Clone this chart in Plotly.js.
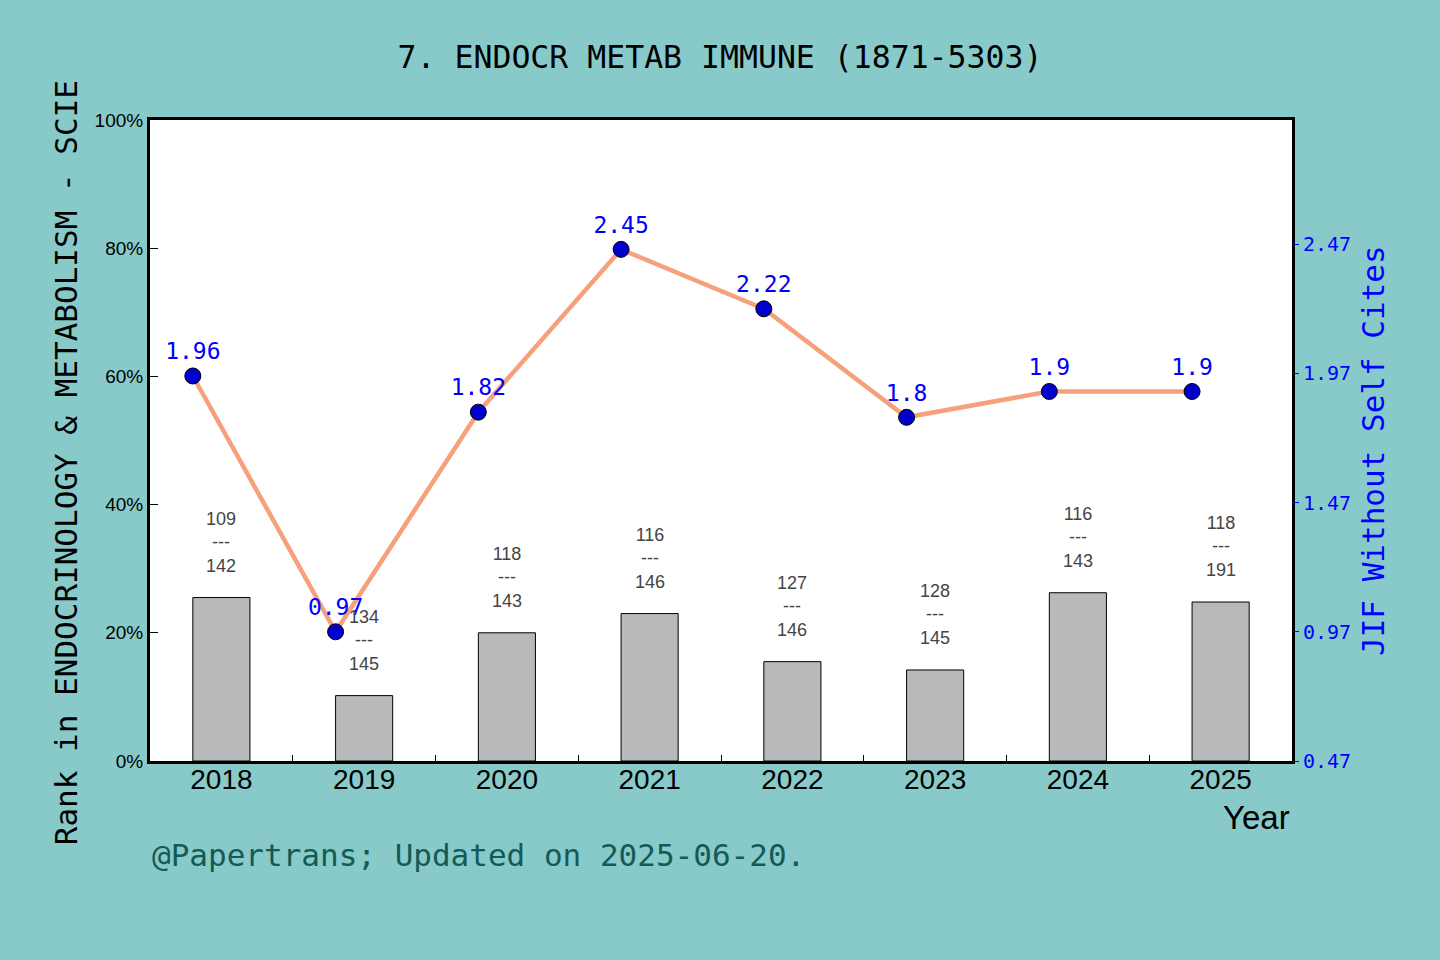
<!DOCTYPE html>
<html>
<head>
<meta charset="utf-8">
<script src="https://cdn.plot.ly/plotly-3.0.1.min.js"></script>
<style>html,body{margin:0;padding:0;background:#88CAC9;}</style>
</head>
<body>
<div id="chart" style="width:1440px;height:960px;"></div>
<script>
const years = ["2018","2019","2020","2021","2022","2023","2024","2025"];
const rankPct = [25.5, 10.2, 20.0, 23.0, 15.5, 14.2, 26.25, 24.8];
const ranks = ["109","134","118","116","127","128","116","118"];
const totals = ["142","145","143","146","146","145","143","191"];
const jif = [1.96, 0.97, 1.82, 2.45, 2.22, 1.8, 1.9, 1.9];
const jifLabels = ["1.96","0.97","1.82","2.45","2.22","1.8","1.9","1.9"];
const rightTicks = [0.47, 0.97, 1.47, 1.97, 2.47];
const rightTickText = ["0.47","0.97","1.47","1.97","2.47"];
const leftTicks = [0, 20, 40, 60, 80, 100];
const leftTickText = ["0%","20%","40%","60%","80%","100%"];

const mono = "DejaVu Sans Mono, monospace";
const sans = "Liberation Sans, Arial, sans-serif";

const idx = years.map((_, i) => i);
const lineX = idx.map(i => i - 0.2);

const bars = {
  type: "bar", x: idx, y: rankPct, width: 0.4,
  marker: {color: "#B8B9BB", line: {color: "#000", width: 1}},
  hoverinfo: "skip", showlegend: false
};
const line = {
  type: "scatter", mode: "lines+markers+text", x: lineX, y: jif, yaxis: "y2",
  line: {color: "#F7A07C", width: 4.5},
  marker: {color: "#0000CC", size: 16, line: {color: "#000", width: 1}},
  text: jifLabels, textposition: "top center",
  textfont: {family: mono, size: 23, color: "#0000FF"},
  showlegend: false, cliponaxis: false
};

const annotations = idx.map(i => ({
  x: i, y: rankPct[i], xref: "x", yref: "y",
  text: ranks[i] + "<br>---<br>" + totals[i],
  showarrow: false, yanchor: "bottom", yshift: 20,
  font: {family: sans, size: 18, color: "#444"}
}));
annotations.push({
  xref: "paper", yref: "paper", x: 1, y: -0.088, xanchor: "right", yanchor: "middle",
  text: "Year", showarrow: false, font: {family: sans, size: 33, color: "#000"}
});
annotations.push({
  xref: "paper", yref: "paper", x: 0, y: -0.147, xanchor: "left", yanchor: "middle",
  text: "@Papertrans; Updated on 2025-06-20.", showarrow: false,
  font: {family: mono, size: 31, color: "#145A55"}
});
annotations.push({
  xref: "paper", yref: "paper", x: -0.0736, y: 0.466, xanchor: "center", yanchor: "middle",
  textangle: -90, text: "Rank in ENDOCRINOLOGY & METABOLISM - SCIE", showarrow: false,
  font: {family: mono, size: 31, color: "#000"}
});
annotations.push({
  xref: "paper", yref: "paper", x: 1.0711, y: 0.484, xanchor: "center", yanchor: "middle",
  textangle: -90, text: "JIF Without Self Cites", showarrow: false,
  font: {family: mono, size: 31, color: "#0000FF"}
});

const layout = {
  width: 1440, height: 960,
  paper_bgcolor: "#88CAC9", plot_bgcolor: "#FFFFFF",
  margin: {l: 150, r: 148, t: 120, b: 199},
  title: {text: "7. ENDOCR METAB IMMUNE (1871-5303)", x: 0.5, xanchor: "center", y: 0.941, yanchor: "middle",
          font: {family: mono, size: 31.5, color: "#000"}},
  xaxis: {
    range: [-0.5, 7.5], tickmode: "array", tickvals: idx, ticktext: years,
    ticks: "", showgrid: false, zeroline: false, ticklabelstandoff: -9,
    showline: true, linecolor: "#000", linewidth: 3, mirror: true,
    tickfont: {family: sans, size: 28, color: "#000"},
    minor: {tickmode: "array", tickvals: [0.5,1.5,2.5,3.5,4.5,5.5,6.5], ticks: "inside", ticklen: 6, tickcolor: "#000", tickwidth: 1, showgrid: false}
  },
  yaxis: {
    range: [0, 100], tickmode: "array", tickvals: leftTicks, ticktext: leftTickText,
    ticks: "inside", ticklen: 8, tickcolor: "#000",
    showgrid: false, zeroline: false,
    showline: true, linecolor: "#000", linewidth: 3, mirror: true,
    tickfont: {family: sans, size: 19, color: "#000"}
  },
  yaxis2: {
    overlaying: "y", side: "right", range: [0.47, 2.9506],
    tickmode: "array", tickvals: rightTicks, ticktext: rightTickText,
    ticks: "outside", ticklen: 6, tickcolor: "#0000FF",
    showgrid: false, zeroline: false, showline: false,
    tickfont: {family: mono, size: 20, color: "#0000FF"}
  },
  annotations: annotations,
  showlegend: false
};

Plotly.newPlot("chart", [bars, line], layout, {displayModeBar: false, staticPlot: true});
</script>
</body>
</html>
